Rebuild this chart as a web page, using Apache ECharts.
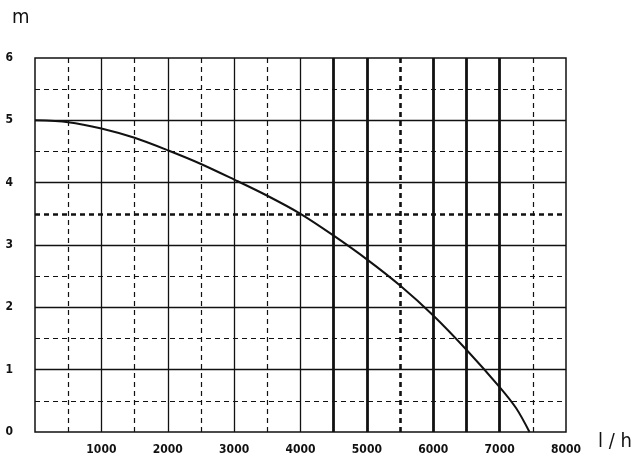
<!DOCTYPE html>
<html><head><meta charset="utf-8">
<script src="https://cdn.jsdelivr.net/npm/echarts@6/dist/echarts.min.js"></script>
<style>html,body{margin:0;background:#fff}#c{width:634px;height:462px}</style>
</head><body><div id="c"></div>
<script>
var flow = [0, 500, 1000, 1500, 2000, 2500, 3000, 3500, 4000, 4500, 5000, 5500, 6000, 6500, 7000, 7250, 7450];
var head = [5, 4.97, 4.87, 4.72, 4.52, 4.3, 4.05, 3.79, 3.5, 3.15, 2.77, 2.35, 1.87, 1.32, 0.72, 0.38, 0];
var xThinSolid = [1000, 2000, 3000, 4000];
var xThinDashed = [500, 1500, 2500, 3500, 7500];
var xThickSolid = [4500, 5000, 6000, 6500, 7000];
var xThickDashed = [5500];
var ySolid = [1, 2, 3, 4, 5];
var yDashed = [0.5, 1.5, 2.5, 4.5, 5.5];
var yThickDashed = [3.5];

function vl(arr, w, t) { return arr.map(function (v) { return { xAxis: v, lineStyle: { width: w, type: t, color: '#111' } }; }); }
function hl(arr, w, t) { return arr.map(function (v) { return { yAxis: v, lineStyle: { width: w, type: t, color: '#111' } }; }); }
var lines = [].concat(vl(xThinSolid, 1.3, 'solid'), vl(xThinDashed, 1.2, [5, 4]), vl(xThickSolid, 2.8, 'solid'),
  vl(xThickDashed, 2.6, [5, 4]), hl(ySolid, 1.3, 'solid'), hl(yDashed, 1.2, [5, 4]), hl(yThickDashed, 2.6, [5, 4]));

var font = 'Liberation Sans Narrow, DejaVu Sans Condensed, sans-serif';
var chart = echarts.init(document.getElementById('c'));
chart.setOption({
  animation: false,
  grid: { left: 35, right: 68, top: 58, bottom: 30 },
  xAxis: { type: 'value', min: 0, max: 8000, interval: 1000,
    axisLine: { show: false }, axisTick: { show: false }, splitLine: { show: false },
    axisLabel: { color: '#111', fontFamily: font, fontWeight: 'bold', fontSize: 12, margin: 12,
      formatter: function (v) { return v === 0 ? '' : v; } } },
  yAxis: { type: 'value', min: 0, max: 6, interval: 1,
    axisLine: { show: false }, axisTick: { show: false }, splitLine: { show: false },
    axisLabel: { color: '#111', fontFamily: font, fontWeight: 'bold', fontSize: 12, margin: 22 } },
  graphic: [
    { type: 'rect', shape: { x: 35, y: 58, width: 531, height: 374 }, style: { fill: 'none', stroke: '#111', lineWidth: 1.5 }, z: 10 },
    { type: 'text', left: 12, top: 8, style: { text: 'm', font: '20px ' + font, fill: '#111' } },
    { type: 'text', left: 598, top: 432, style: { text: 'l / h', font: '20px ' + font, fill: '#111' } }
  ],
  series: [{
    type: 'line', smooth: 0.3, showSymbol: false,
    data: flow.map(function (f, i) { return [f, head[i]]; }),
    lineStyle: { color: '#111', width: 2 },
    markLine: { silent: true, symbol: 'none', label: { show: false }, data: lines }
  }]
});
</script></body></html>
